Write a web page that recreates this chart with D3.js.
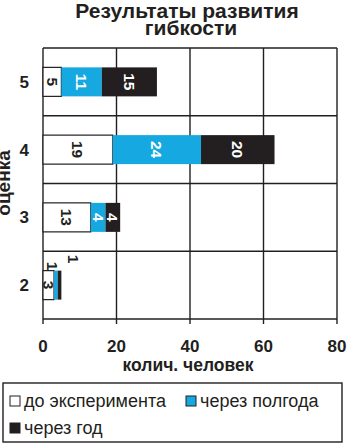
<!DOCTYPE html>
<html>
<head>
<meta charset="utf-8">
<script src="https://cdn.jsdelivr.net/npm/d3@7/dist/d3.min.js"></script>
<style>
  body { margin: 0; background: #fff; }
  text { font-family: "Liberation Sans", Arial, sans-serif; fill: #231f20; }
</style>
</head>
<body>
<svg id="chart" width="347" height="444"></svg>
<script>
// data
var grades = ["5", "4", "3", "2"];
var seriesNames = ["до эксперимента", "через полгода", "через год"];
var before = [5, 19, 13, 3];
var halfYear = [11, 24, 4, 1];
var afterYear = [15, 20, 4, 1];
var xTicks = [0, 20, 40, 60, 80];

var colors = ["#ffffff", "#16a8e0", "#231f20"];
var labelColors = ["#231f20", "#ffffff", "#ffffff"];

var svg = d3.select("#chart");
var ink = "#231f20";

var margin = { left: 43, right: 337, top: 48, bottom: 319 };

var x = d3.scaleLinear().domain([0, 80]).range([margin.left, margin.right]);
var y = d3.scaleBand().domain(grades).range([margin.top, margin.bottom]).paddingInner(0).paddingOuter(0);

var rows = grades.map(function(g, i) {
  return { grade: g, v: [before[i], halfYear[i], afterYear[i]] };
});
var stack = d3.stack().keys([0, 1, 2]).value(function(d, k) { return d.v[k]; });
var layers = stack(rows);

// title
svg.append("text").attr("x", 187).attr("y", 17.5).attr("text-anchor", "middle")
  .style("font-size", "21px").style("font-weight", "bold").text("Результаты развития");
svg.append("text").attr("x", 191).attr("y", 35).attr("text-anchor", "middle")
  .style("font-size", "21px").style("font-weight", "bold").text("гибкости");

// grid
var grid = svg.append("g").attr("stroke", ink).attr("stroke-width", 1.4);
grades.forEach(function(g) {
  grid.append("line").attr("x1", margin.left).attr("x2", margin.right)
    .attr("y1", y(g)).attr("y2", y(g));
});
xTicks.forEach(function(t) {
  grid.append("line").attr("x1", x(t)).attr("x2", x(t))
    .attr("y1", margin.top).attr("y2", margin.bottom + 5);
});
grid.append("line").attr("x1", margin.left).attr("x2", margin.right)
  .attr("y1", margin.bottom).attr("y2", margin.bottom);

// bars
var barH = 29;
layers.forEach(function(layer, k) {
  svg.append("g").selectAll("rect").data(layer).enter().append("rect")
    .attr("x", function(d) { return x(d[0]); })
    .attr("width", function(d) { return x(d[1]) - x(d[0]); })
    .attr("y", function(d) { return y(d.data.grade) + (y.bandwidth() - barH) / 2; })
    .attr("height", barH)
    .attr("fill", colors[k])
    .attr("stroke", ink).attr("stroke-width", k === 0 ? 1.2 : 0);
});

// value labels (rotated)
layers.forEach(function(layer, k) {
  layer.forEach(function(d) {
    var val = d.data.v[k];
    var cx = (x(d[0]) + x(d[1])) / 2;
    var cy = y(d.data.grade) + y.bandwidth() / 2;
    var fill = labelColors[k];
    var w = x(d[1]) - x(d[0]);
    if (w < 8) {
      // small segment: put label above the bar
      cx = k === 1 ? cx - 3 : cx + 14;
      cy = k === 1 ? cy - 19 : cy - 26;
      fill = ink;
    }
    svg.append("text")
      .attr("transform", "translate(" + cx + "," + cy + ") rotate(90)")
      .attr("text-anchor", "middle").attr("dy", "0.36em")
      .style("font-size", "15.5px").style("font-weight", "bold")
      .style("fill", fill).text(val);
  });
});

// axis labels
svg.append("g").selectAll("text").data(xTicks).enter().append("text")
  .attr("x", function(d) { return x(d); }).attr("y", 352)
  .attr("text-anchor", "middle").style("font-size", "17px").style("font-weight", "bold")
  .text(function(d) { return d; });

svg.append("g").selectAll("text").data(grades).enter().append("text")
  .attr("x", 29).attr("y", function(d) { return y(d) + y.bandwidth() / 2 + 6; })
  .attr("text-anchor", "end").style("font-size", "17px").style("font-weight", "bold")
  .text(function(d) { return d; });

svg.append("text").attr("x", 188).attr("y", 371).attr("text-anchor", "middle")
  .style("font-size", "17.5px").style("font-weight", "bold").text("колич. человек");

svg.append("text").attr("transform", "translate(10,183) rotate(-90)")
  .attr("text-anchor", "middle").style("font-size", "19px").style("font-weight", "bold")
  .text("оценка");

// legend
var legend = svg.append("g");
legend.append("rect").attr("x", 3).attr("y", 383).attr("width", 339).attr("height", 59)
  .attr("fill", "#fff").attr("stroke", ink).attr("stroke-width", 1.4);
var legendPos = [[10, 396], [186, 396], [10, 423]];
seriesNames.forEach(function(name, k) {
  legend.append("rect").attr("x", legendPos[k][0]).attr("y", legendPos[k][1])
    .attr("width", 10).attr("height", 10).attr("fill", colors[k])
    .attr("stroke", ink).attr("stroke-width", 1);
  legend.append("text").attr("x", legendPos[k][0] + 14).attr("y", legendPos[k][1] + 11)
    .style("font-size", "18px").text(name);
});
</script>
</body>
</html>
